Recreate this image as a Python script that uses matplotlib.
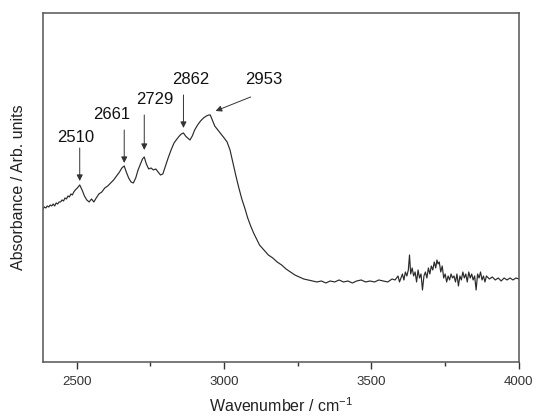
import matplotlib
matplotlib.use("Agg")
import matplotlib.pyplot as plt
from matplotlib.ticker import MultipleLocator, NullLocator

plt.rcParams['font.family'] = ['Liberation Sans', 'DejaVu Sans']
plt.rcParams['mathtext.default'] = 'regular'

# spectrum (wavenumber / cm-1, absorbance in arb. units)
wavenumber = [
    2385, 2390, 2395, 2400, 2405, 2410, 2415, 2420, 2425, 2430, 2435, 2440,
    2445, 2450, 2455, 2460, 2465, 2470, 2475, 2480, 2485, 2490, 2495, 2502,
    2510, 2518, 2526, 2534, 2542, 2550, 2558, 2566, 2575, 2585, 2595, 2605,
    2615, 2625, 2635, 2645, 2653, 2661, 2668, 2676, 2684, 2692, 2700, 2708,
    2716, 2723, 2729, 2736, 2744, 2752, 2760, 2768, 2776, 2784, 2792, 2800,
    2810, 2820, 2830, 2840, 2848, 2855, 2862, 2869, 2876, 2884, 2892, 2900,
    2910, 2920, 2930, 2940, 2948, 2953, 2960, 2968, 2976, 2984, 2992, 3000,
    3010, 3020, 3030, 3040, 3050, 3060, 3070, 3080, 3090, 3100, 3110, 3120,
    3135, 3150, 3165, 3180, 3195, 3210, 3225, 3240, 3255, 3270, 3285, 3300,
    3315, 3330, 3345, 3360, 3375, 3390, 3405, 3420, 3435, 3450, 3465, 3480,
    3495, 3510, 3525, 3540, 3555, 3570, 3580, 3590, 3595, 3600, 3605, 3610,
    3615, 3620, 3625, 3629, 3633, 3638, 3643, 3648, 3653, 3658, 3663, 3668,
    3673, 3678, 3683, 3688, 3693, 3698, 3703, 3708, 3713, 3718, 3722, 3726,
    3730, 3735, 3740, 3745, 3750, 3755, 3760, 3765, 3770, 3775, 3780, 3785,
    3790, 3795, 3800, 3805, 3810, 3815, 3820, 3825, 3830, 3835, 3840, 3845,
    3850, 3855, 3860, 3865, 3870, 3875, 3880, 3885, 3890, 3900, 3910, 3920,
    3930, 3940, 3950, 3960, 3970, 3980, 3990, 4000,
]
absorbance = [
    1.53, 1.55, 1.54, 1.56, 1.55, 1.57, 1.56, 1.58, 1.56, 1.59, 1.58, 1.60,
    1.60, 1.62, 1.61, 1.64, 1.63, 1.66, 1.65, 1.68, 1.67, 1.70, 1.72, 1.74,
    1.77, 1.72, 1.66, 1.62, 1.60, 1.63, 1.60, 1.64, 1.68, 1.70, 1.74, 1.76,
    1.79, 1.82, 1.86, 1.90, 1.94, 1.96, 1.90, 1.84, 1.80, 1.79, 1.84, 1.92,
    1.98, 2.03, 2.05, 1.98, 1.93, 1.94, 1.92, 1.93, 1.90, 1.87, 1.88, 1.95,
    2.04, 2.12, 2.19, 2.23, 2.26, 2.28, 2.29, 2.26, 2.24, 2.22, 2.26, 2.32,
    2.37, 2.41, 2.44, 2.46, 2.47, 2.47, 2.42, 2.36, 2.33, 2.30, 2.27, 2.24,
    2.20, 2.12, 1.99, 1.86, 1.74, 1.63, 1.54, 1.44, 1.36, 1.29, 1.23, 1.17,
    1.12, 1.07, 1.04, 1.00, 0.97, 0.93, 0.90, 0.87, 0.85, 0.83, 0.82, 0.81,
    0.80, 0.81, 0.79, 0.81, 0.80, 0.82, 0.80, 0.81, 0.79, 0.81, 0.82, 0.80,
    0.81, 0.80, 0.82, 0.81, 0.80, 0.83, 0.82, 0.86, 0.80, 0.84, 0.88, 0.82,
    0.90, 0.86, 0.92, 1.07, 0.88, 0.94, 0.86, 0.90, 0.80, 0.92, 0.84, 0.88,
    0.72, 0.86, 0.90, 0.84, 0.94, 0.88, 0.96, 0.92, 1.00, 0.94, 1.02, 0.98,
    1.00, 0.90, 0.96, 0.84, 0.88, 0.80, 0.86, 0.82, 0.88, 0.84, 0.86, 0.80,
    0.88, 0.76, 0.86, 0.82, 0.90, 0.84, 0.88, 0.80, 0.90, 0.84, 0.88, 0.82,
    0.86, 0.72, 0.88, 0.84, 0.90, 0.82, 0.86, 0.80, 0.86, 0.83, 0.85, 0.82,
    0.84, 0.81, 0.84, 0.82, 0.84, 0.82, 0.84, 0.83,
]

# peak labels: label, arrow tip, arrow tail, text centre
peak_labels = ['2510', '2661', '2729', '2862', '2953']
arrow_tip = [(2510, 1.81), (2661, 1.99), (2729, 2.12), (2862, 2.34), (2971, 2.51)]
arrow_tail = [(2510, 2.14), (2661, 2.32), (2729, 2.47), (2862, 2.67), (3090, 2.65)]
text_pos = [(2495, 2.24), (2619, 2.47), (2764, 2.62), (2886, 2.82), (3134, 2.82)]

fig = plt.figure(figsize=(5.36, 4.18), dpi=100)
ax = fig.add_axes([0.080, 0.134, 0.888, 0.835])

ax.plot(wavenumber, absorbance, color='#2a2a2a', lw=0.85)

for lab, tip, tail, tp in zip(peak_labels, arrow_tip, arrow_tail, text_pos):
    ax.annotate('', xy=tip, xytext=tail,
                arrowprops=dict(arrowstyle='-|>', color='#333333', lw=0.7,
                                mutation_scale=9, shrinkA=0, shrinkB=0))
    ax.text(tp[0], tp[1], lab, fontsize=12, ha='center', va='center',
            color='#111111')

ax.set_xlim(2385, 4000)
ax.set_ylim(0, 3.49)
ax.xaxis.set_major_locator(MultipleLocator(500))
ax.xaxis.set_minor_locator(MultipleLocator(250))
ax.yaxis.set_major_locator(NullLocator())
ax.tick_params(axis='x', which='major', direction='out', length=5,
               width=1, labelsize=9.5, colors='#333333', pad=5)
ax.tick_params(axis='x', which='minor', direction='out', length=3, width=1,
               colors='#333333')
for s in ax.spines.values():
    s.set_color('#555555')
    s.set_linewidth(1.1)

ax.set_xlabel('Wavenumber / cm$^{-1}$', fontsize=11.5, color='#222222',
              labelpad=6)
ax.set_ylabel('Absorbance / Arb. units', fontsize=11.5, color='#222222',
              labelpad=12)

fig.savefig('out.png', dpi=100)
